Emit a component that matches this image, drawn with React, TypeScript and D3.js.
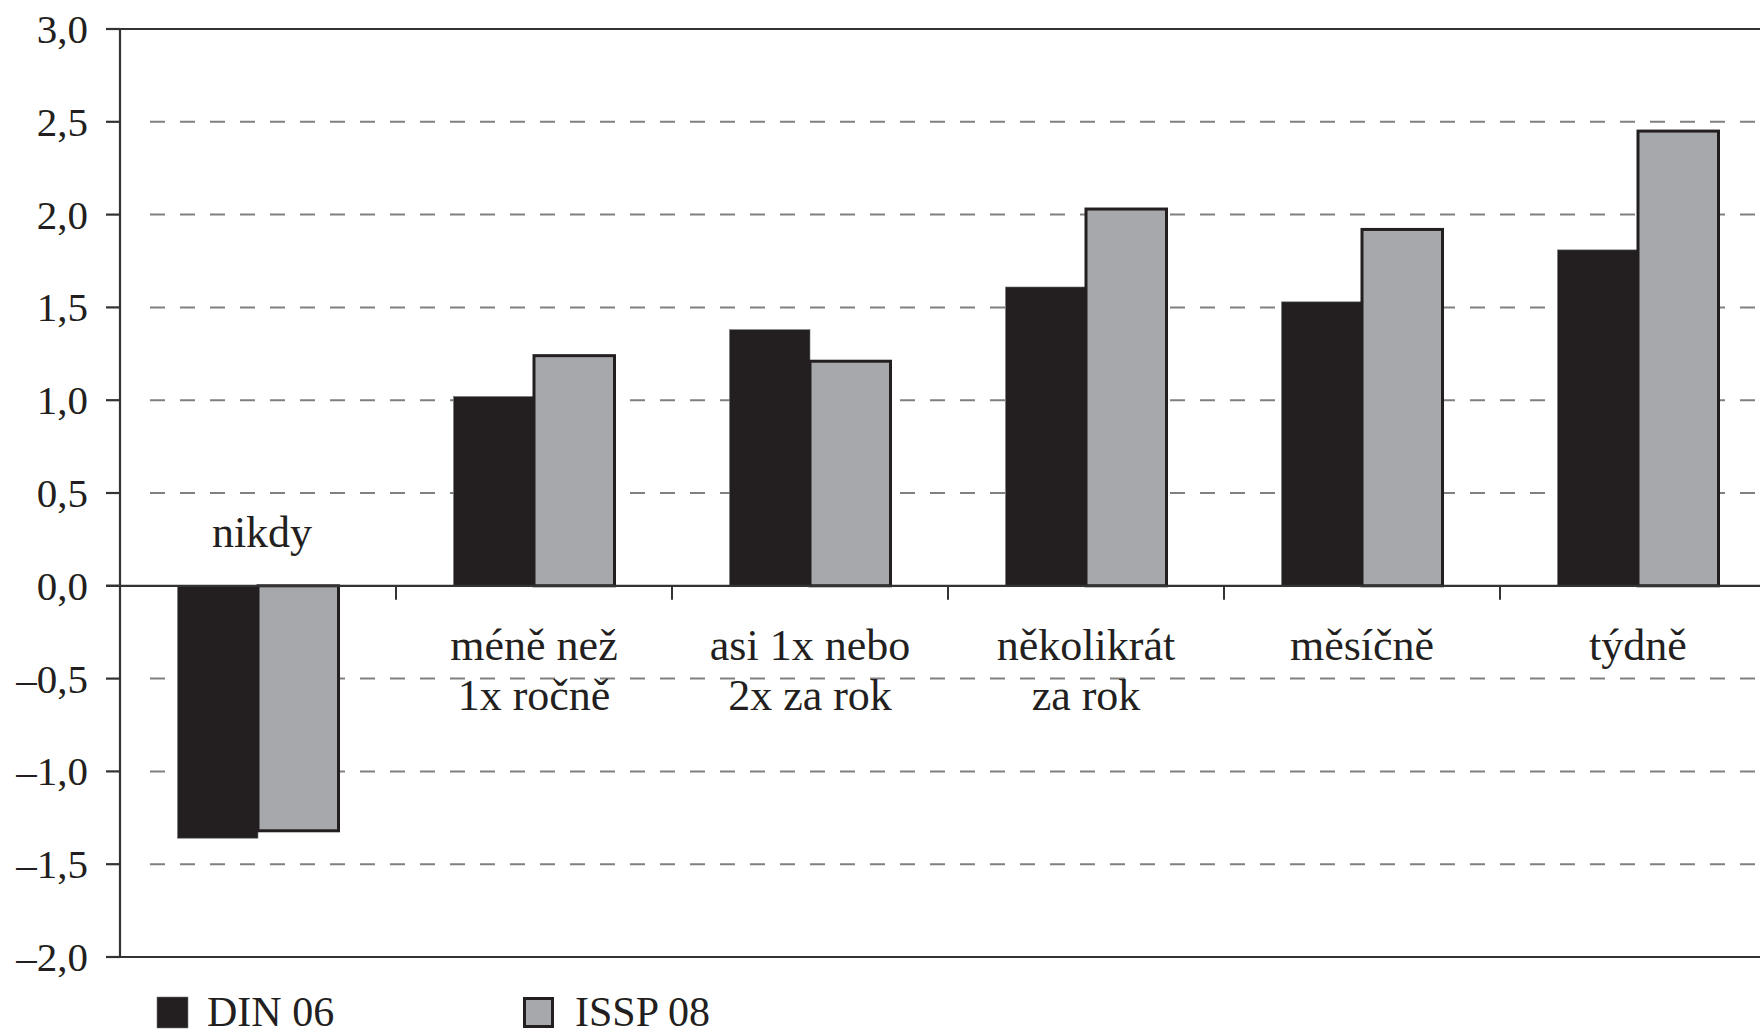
import { useMemo } from "react";
import * as d3 from "d3";

// categories (x axis), two series, y ticks
const categories = ["nikdy", "méně než 1x ročně", "asi 1x nebo 2x za rok", "několikrát za rok", "měsíčně", "týdně"];
const categoryLines = [["nikdy"], ["méně než", "1x ročně"], ["asi 1x nebo", "2x za rok"], ["několikrát", "za rok"], ["měsíčně"], ["týdně"]];
const seriesNames = ["DIN 06", "ISSP 08"];
const din06 = [-1.36, 1.02, 1.38, 1.61, 1.53, 1.81];
const issp08 = [-1.32, 1.24, 1.21, 2.03, 1.92, 2.45];
const yTicks = [3, 2.5, 2, 1.5, 1, 0.5, 0, -0.5, -1, -1.5, -2];

const W = 1760;
const H = 1036;
const FONT = "'Liberation Serif', 'DejaVu Serif', serif";
const BLACK = "#231f20";
const GREY = "#a7a8ab";

const fmt = (v: number) => {
  const s = Math.abs(v).toFixed(1).replace(".", ",");
  return v < 0 ? "\u2013" + s : s;
};

export default function App() {
  const x = useMemo(() => d3.scaleBand<string>().domain(categories).range([120, 1776]).paddingInner(0), []);
  const inner = useMemo(() => d3.scaleBand<string>().domain(seriesNames).range([57.5, 218.5]), []);
  const y = useMemo(() => d3.scaleLinear().domain([-2, 3]).range([957, 29]), []);

  const left = x.range()[0];
  const values = [din06, issp08];

  return (
    <svg width={W} height={H} style={{ position: "absolute", left: 0, top: 0, background: "#fff" }} fontFamily={FONT}>
      {/* dashed grid */}
      {yTicks
        .filter((t) => t !== 3 && t !== 0 && t !== -2)
        .map((t) => (
          <line key={"g" + t} x1={left + 30} x2={W} y1={y(t)} y2={y(t)} stroke="#808080" strokeWidth={2} strokeDasharray="15,15" />
        ))}

      {/* bars */}
      {categories.map((c, i) =>
        seriesNames.map((s, j) => {
          const v = values[j][i];
          const bx = (x(c) ?? 0) + (inner(s) ?? 0);
          const y0 = y(Math.max(0, v));
          const h = Math.abs(y(v) - y(0));
          return j === 0 ? (
            <rect key={c + s} x={bx} y={y0} width={inner.bandwidth()} height={h} fill={BLACK} stroke="#777" strokeWidth={0.6} />
          ) : (
            <rect key={c + s} x={bx} y={y0} width={inner.bandwidth()} height={h} fill={GREY} stroke={BLACK} strokeWidth={3} />
          );
        })
      )}

      {/* solid lines: top, zero, bottom */}
      {[3, 0, -2].map((t) => (
        <line key={"s" + t} x1={106} x2={W} y1={y(t)} y2={y(t)} stroke="#333" strokeWidth={2.2} />
      ))}

      {/* y axis */}
      <line x1={left} x2={left} y1={y(3)} y2={y(-2)} stroke="#333" strokeWidth={2.2} />
      {yTicks.map((t) => (
        <g key={"t" + t}>
          <line x1={106} x2={left} y1={y(t)} y2={y(t)} stroke="#333" strokeWidth={2.2} />
          <text x={88} y={y(t)} dy="0.34em" textAnchor="end" fontSize={41} fill="#231f20">
            {fmt(t)}
          </text>
        </g>
      ))}

      {/* category ticks on zero line */}
      {categories.slice(1).map((c) => (
        <line key={"ct" + c} x1={x(c)} x2={x(c)} y1={y(0)} y2={y(0) + 14} stroke="#333" strokeWidth={2} />
      ))}

      {/* category labels */}
      {categories.map((c, i) => {
        const cx = (x(c) ?? 0) + x.bandwidth() / 2 + (i === 0 ? 4 : 0);
        const lines = categoryLines[i];
        const neg = din06[i] < 0;
        return (
          <text key={"l" + c} x={cx} textAnchor="middle" fontSize={44} fill="#231f20">
            {lines.map((ln, k) => (
              <tspan key={k} x={cx} y={neg ? y(0) - 39 : y(0) + 74 + k * 50}>
                {ln}
              </tspan>
            ))}
          </text>
        );
      })}

      {/* legend */}
      <rect x={157} y={997} width={31} height={31} fill={BLACK} stroke="#777" strokeWidth={0.6} />
      <text x={207} y={1026} fontSize={42} fill="#231f20">{seriesNames[0]}</text>
      <rect x={524.5} y={998.5} width={28} height={28} fill={GREY} stroke={BLACK} strokeWidth={3} />
      <text x={575} y={1026} fontSize={42} fill="#231f20">{seriesNames[1]}</text>
    </svg>
  );
}
